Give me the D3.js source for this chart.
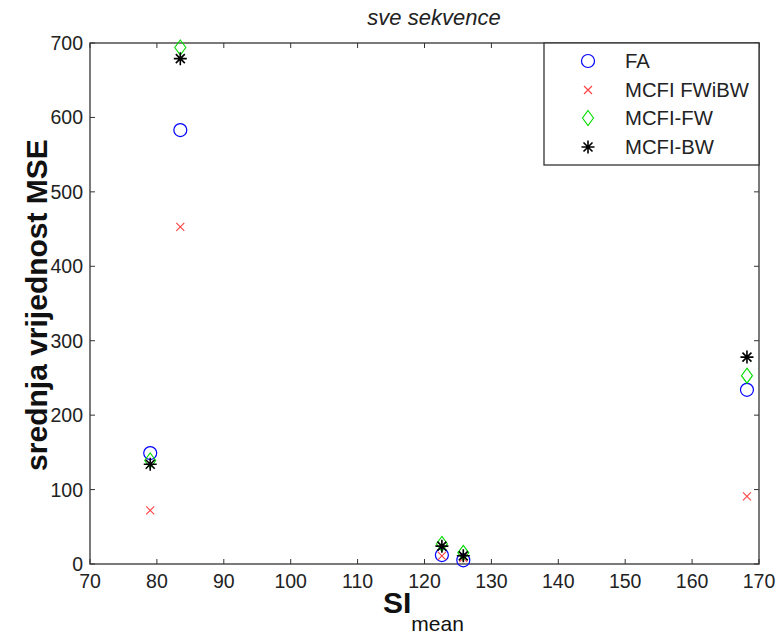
<!DOCTYPE html>
<html><head><meta charset="utf-8">
<script src="https://cdn.jsdelivr.net/npm/d3@7/dist/d3.min.js"></script>
<style>body{margin:0;background:#fff}svg{display:block}text{font-family:"Liberation Sans",Arial,sans-serif}</style>
</head><body><svg id="c" width="778" height="638"></svg>
<script>
const xs = [79, 83.5, 122.6, 125.8, 168.2];
const seriesNames = ["FA", "MCFI FWiBW", "MCFI-FW", "MCFI-BW"];
const faValues = [149, 583, 12, 5, 234];
const fwibwValues = [72, 453, 11, 8, 91];
const fwValues = [139, 694, 27, 15, 253];
const bwValues = [134, 679, 24, 11, 278];
const xTicks = [70, 80, 90, 100, 110, 120, 130, 140, 150, 160, 170];
const yTicks = [0, 100, 200, 300, 400, 500, 600, 700];

const svg = d3.select("#c");
const L = 90, R = 759, T = 43, B = 564;
const x = d3.scaleLinear().domain([70, 170]).range([L, R]);
const y = d3.scaleLinear().domain([0, 700]).range([B, T]);
const axisCol = "#333";
const tickFont = 19.5;

const tk = 5;
const gT = svg.append("g");
xTicks.forEach(t => {
  gT.append("line").attr("x1", x(t)).attr("x2", x(t)).attr("y1", B).attr("y2", B - tk).attr("stroke", axisCol);
  gT.append("line").attr("x1", x(t)).attr("x2", x(t)).attr("y1", T).attr("y2", T + tk).attr("stroke", axisCol);
  svg.append("text").attr("x", x(t)).attr("y", B + 24).attr("text-anchor", "middle")
    .attr("font-size", tickFont).attr("fill", "#222").text(t);
});
yTicks.forEach(t => {
  gT.append("line").attr("x1", L).attr("x2", L + tk).attr("y1", y(t)).attr("y2", y(t)).attr("stroke", axisCol);
  gT.append("line").attr("x1", R).attr("x2", R - tk).attr("y1", y(t)).attr("y2", y(t)).attr("stroke", axisCol);
  svg.append("text").attr("x", L - 7).attr("y", y(t) + 7).attr("text-anchor", "end")
    .attr("font-size", tickFont).attr("fill", "#222").text(t);
});
svg.append("rect").attr("x", L).attr("y", T).attr("width", R - L).attr("height", B - T)
  .attr("fill", "none").attr("stroke", axisCol).attr("stroke-width", 1.3);

function drawMarker(g, type, cx, cy) {
  if (type === "circle") {
    g.append("circle").attr("cx", cx).attr("cy", cy).attr("r", 6.5).attr("fill", "none").attr("stroke", "#0000ff").attr("stroke-width", 1.2);
  } else if (type === "x") {
    const s = 4;
    g.append("path").attr("d", `M${cx-s},${cy-s}L${cx+s},${cy+s}M${cx-s},${cy+s}L${cx+s},${cy-s}`).attr("stroke", "#ff4040").attr("stroke-width", 1.1).attr("fill", "none");
  } else if (type === "diamond") {
    g.append("path").attr("d", `M${cx},${cy-7.5}L${cx+5.5},${cy}L${cx},${cy+7.5}L${cx-5.5},${cy}Z`).attr("stroke", "#00dd00").attr("stroke-width", 1.1).attr("fill", "none");
  } else if (type === "star") {
    const s = 6.5, d = 4.5;
    g.append("path").attr("d", `M${cx},${cy-s}L${cx},${cy+s}M${cx-s},${cy}L${cx+s},${cy}M${cx-d},${cy-d}L${cx+d},${cy+d}M${cx-d},${cy+d}L${cx+d},${cy-d}`).attr("stroke", "#000").attr("stroke-width", 1.6).attr("fill", "none");
  }
}
const series = [
  {name: seriesNames[0], vals: faValues, type: "circle"},
  {name: seriesNames[1], vals: fwibwValues, type: "x"},
  {name: seriesNames[2], vals: fwValues, type: "diamond"},
  {name: seriesNames[3], vals: bwValues, type: "star"}
];
const gm = svg.append("g");
series.forEach(s => {
  s.vals.forEach((v, i) => drawMarker(gm, s.type, x(xs[i]), y(v)));
});

const lx = 544, ly = T, lw = R - lx, lh = 122;
svg.append("rect").attr("x", lx).attr("y", ly).attr("width", lw).attr("height", lh).attr("fill", "#fff").attr("stroke", axisCol).attr("stroke-width", 1.3);
const rows = [61, 90, 118, 147];
series.forEach((s, i) => {
  drawMarker(svg, s.type, 588, rows[i]);
  svg.append("text").attr("x", 625).attr("y", rows[i] + 7).attr("font-size", 20.3).attr("fill", "#222").text(s.name);
});

svg.append("text").attr("x", 434).attr("y", 25).attr("text-anchor", "middle").attr("font-size", 22)
  .attr("font-style", "italic").attr("fill", "#222").text("sve sekvence");

svg.append("text").attr("transform", `translate(47,305) rotate(-90)`).attr("text-anchor", "middle")
  .attr("font-size", 30).attr("font-weight", "bold").attr("fill", "#111").text("srednja vrijednost MSE");

const xl = svg.append("text").attr("x", 383).attr("y", 613).attr("text-anchor", "start").attr("fill", "#111");
xl.append("tspan").attr("font-size", 30).attr("font-weight", "bold").text("SI");
xl.append("tspan").attr("font-size", 21).attr("dy", 18).text("mean");
</script></body></html>
